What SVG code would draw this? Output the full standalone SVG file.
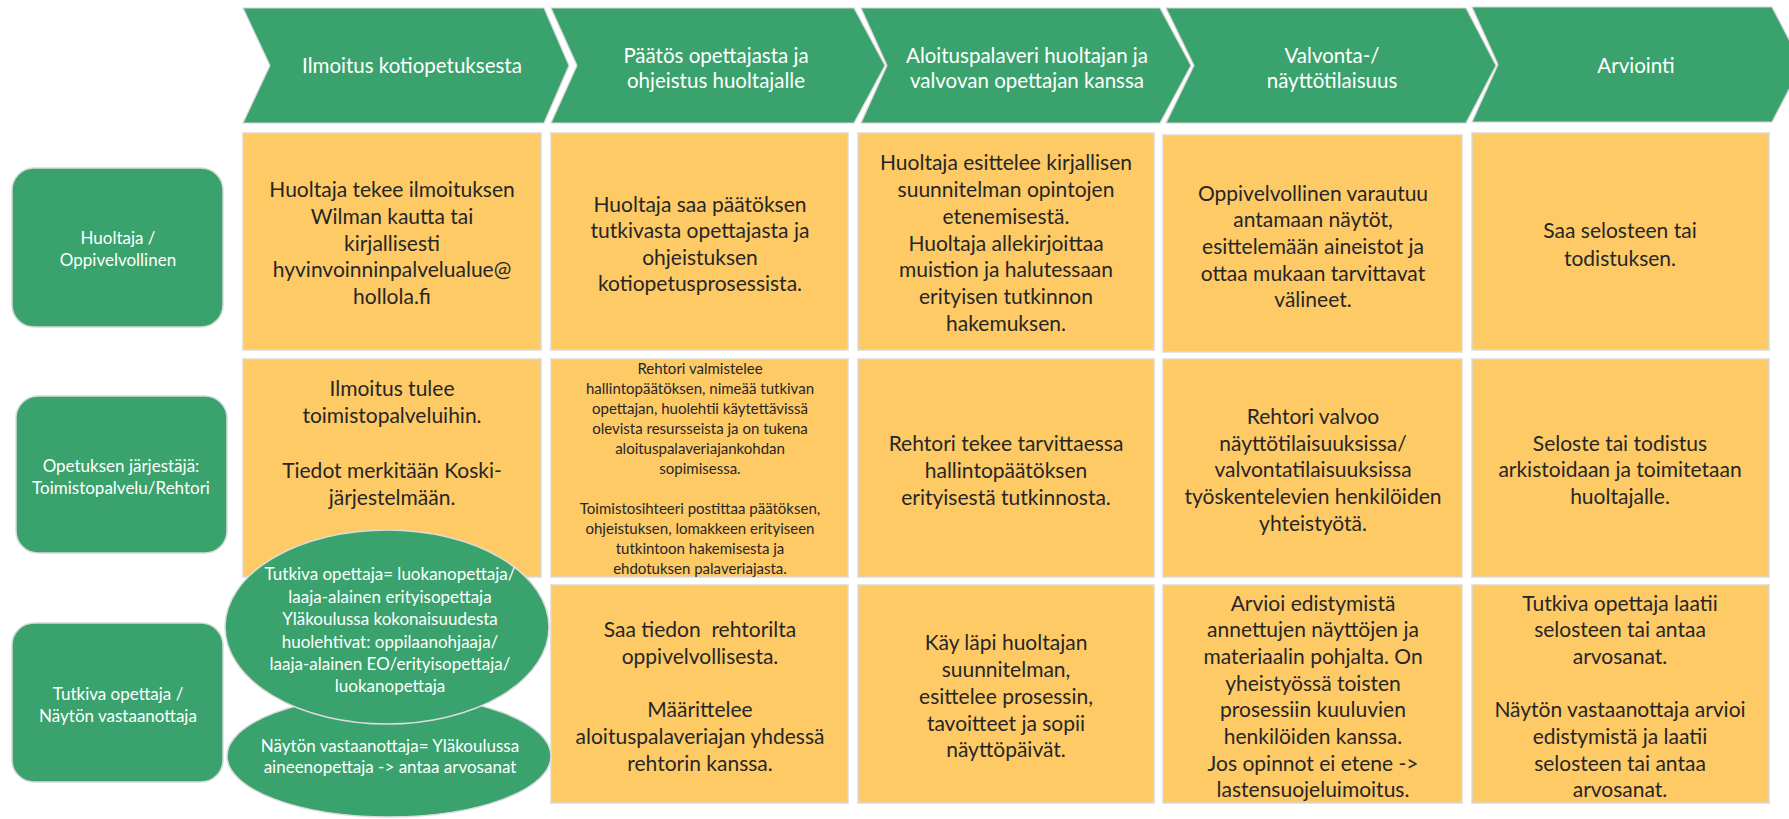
<svg xmlns="http://www.w3.org/2000/svg" width="1789" height="819" viewBox="0 0 1789 819">
<style>
.chev{fill:#3AA36D;stroke:#d6d6d6;stroke-width:1.2}
.lab{fill:#3AA36D;stroke:#d9d9d9;stroke-width:1.5}
.ell{fill:#3AA36D;stroke:#dcdcdc;stroke-width:1.5}
.box{fill:#FECA66;stroke:#d9d9d9;stroke-width:1.5}
text{font-family:Lato,"Liberation Sans",sans-serif;text-anchor:middle;dominant-baseline:central}
.h{fill:#ffffff;font-size:20.5px}
.w{fill:#ffffff;font-size:17px}
.t{fill:#262626;font-size:21px}
.s{fill:#262626;font-size:15px}
</style>
<rect width="1789" height="819" fill="#ffffff"/>
<g id="headers">
<g id="step1"><path class="chev" d="M243,8 L544,8 L569,65.5 L544,123 L243,123 L270,65.5 Z"/><text class="h" x="412" y="65">Ilmoitus kotiopetuksesta</text></g>
<g id="step2"><path class="chev" d="M551,8 L854,8 L885,65.5 L854,123 L551,123 L577,65.5 Z"/><text class="h"><tspan x="716" y="55">Päätös opettajasta ja</tspan><tspan x="716" y="80">ohjeistus huoltajalle</tspan></text></g>
<g id="step3"><path class="chev" d="M861,8 L1160,8 L1191,65.5 L1160,123 L861,123 L887,65.5 Z"/><text class="h"><tspan x="1027" y="55">Aloituspalaveri huoltajan ja</tspan><tspan x="1027" y="80">valvovan opettajan kanssa</tspan></text></g>
<g id="step4"><path class="chev" d="M1166,8 L1466,8 L1496,65.5 L1466,123 L1166,123 L1194,65.5 Z"/><text class="h"><tspan x="1332" y="55">Valvonta-/</tspan><tspan x="1332" y="80">näyttötilaisuus</tspan></text></g>
<g id="step5"><path class="chev" d="M1472,7 L1772,7 L1802,64.5 L1772,122 L1472,122 L1498,64.5 Z"/><text class="h" x="1636" y="65">Arviointi</text></g>
</g>
<g id="roles">
<g id="role1"><rect class="lab" x="12" y="168" width="211" height="159" rx="22"/><text class="w"><tspan x="118" y="237">Huoltaja /</tspan><tspan x="118" y="259">Oppivelvollinen</tspan></text></g>
<g id="role2"><rect class="lab" x="16" y="396" width="211" height="157" rx="22"/><text class="w"><tspan x="121" y="465">Opetuksen järjestäjä:</tspan><tspan x="121" y="487">Toimistopalvelu/Rehtori</tspan></text></g>
<g id="role3"><rect class="lab" x="12" y="623" width="211" height="159" rx="22"/><text class="w"><tspan x="118" y="693">Tutkiva opettaja /</tspan><tspan x="118" y="715">Näytön vastaanottaja</tspan></text></g>
</g>
<g id="cells">
<g id="r1c1"><rect class="box" x="243" y="133" width="298" height="217"/><text class="t"><tspan x="392" y="188">Huoltaja tekee ilmoituksen</tspan><tspan x="392" y="215">Wilman kautta tai</tspan><tspan x="392" y="242">kirjallisesti</tspan><tspan x="392" y="268">hyvinvoinninpalvelualue@</tspan><tspan x="392" y="295">hollola.fi</tspan></text></g>
<g id="r1c2"><rect class="box" x="551" y="133" width="297" height="217"/><text class="t"><tspan x="700" y="203">Huoltaja saa päätöksen</tspan><tspan x="700" y="229">tutkivasta opettajasta ja</tspan><tspan x="700" y="256">ohjeistuksen</tspan><tspan x="700" y="282">kotiopetusprosessista.</tspan></text></g>
<g id="r1c3"><rect class="box" x="858" y="133" width="296" height="217"/><text class="t"><tspan x="1006" y="161">Huoltaja esittelee kirjallisen</tspan><tspan x="1006" y="188">suunnitelman opintojen</tspan><tspan x="1006" y="215">etenemisestä.</tspan><tspan x="1006" y="242">Huoltaja allekirjoittaa</tspan><tspan x="1006" y="268">muistion ja halutessaan</tspan><tspan x="1006" y="295">erityisen tutkinnon</tspan><tspan x="1006" y="322">hakemuksen.</tspan></text></g>
<g id="r1c4"><rect class="box" x="1163" y="135" width="299" height="217"/><text class="t"><tspan x="1313" y="192">Oppivelvollinen varautuu</tspan><tspan x="1313" y="218">antamaan näytöt,</tspan><tspan x="1313" y="245">esittelemään aineistot ja</tspan><tspan x="1313" y="272">ottaa mukaan tarvittavat</tspan><tspan x="1313" y="298">välineet.</tspan></text></g>
<g id="r1c5"><rect class="box" x="1472" y="133" width="297" height="217"/><text class="t"><tspan x="1620" y="229">Saa selosteen tai</tspan><tspan x="1620" y="257">todistuksen.</tspan></text></g>
<g id="r2c1"><rect class="box" x="243" y="359" width="298" height="218"/><text class="t"><tspan x="392" y="387">Ilmoitus tulee</tspan><tspan x="392" y="414">toimistopalveluihin.</tspan><tspan x="392" y="469">Tiedot merkitään Koski-</tspan><tspan x="392" y="496">järjestelmään.</tspan></text></g>
<g id="r2c2"><rect class="box" x="551" y="359" width="297" height="218"/><text class="s"><tspan x="700" y="368">Rehtori valmistelee</tspan><tspan x="700" y="388">hallintopäätöksen, nimeää tutkivan</tspan><tspan x="700" y="408">opettajan, huolehtii käytettävissä</tspan><tspan x="700" y="428">olevista resursseista ja on tukena</tspan><tspan x="700" y="448">aloituspalaveriajankohdan</tspan><tspan x="700" y="468">sopimisessa.</tspan><tspan x="700" y="508">Toimistosihteeri postittaa päätöksen,</tspan><tspan x="700" y="528">ohjeistuksen, lomakkeen erityiseen</tspan><tspan x="700" y="548">tutkintoon hakemisesta ja</tspan><tspan x="700" y="568">ehdotuksen palaveriajasta.</tspan></text></g>
<g id="r2c3"><rect class="box" x="858" y="359" width="296" height="218"/><text class="t"><tspan x="1006" y="442">Rehtori tekee tarvittaessa</tspan><tspan x="1006" y="469">hallintopäätöksen</tspan><tspan x="1006" y="496">erityisestä tutkinnosta.</tspan></text></g>
<g id="r2c4"><rect class="box" x="1163" y="359" width="299" height="218"/><text class="t"><tspan x="1313" y="415">Rehtori valvoo</tspan><tspan x="1313" y="442">näyttötilaisuuksissa/</tspan><tspan x="1313" y="468">valvontatilaisuuksissa</tspan><tspan x="1313" y="495">työskentelevien henkilöiden</tspan><tspan x="1313" y="522">yhteistyötä.</tspan></text></g>
<g id="r2c5"><rect class="box" x="1472" y="359" width="297" height="218"/><text class="t"><tspan x="1620" y="442">Seloste tai todistus</tspan><tspan x="1620" y="468">arkistoidaan ja toimitetaan</tspan><tspan x="1620" y="495">huoltajalle.</tspan></text></g>
<g id="r3c2"><rect class="box" x="551" y="585" width="297" height="218"/><text class="t" xml:space="preserve"><tspan x="700" y="628">Saa tiedon  rehtorilta</tspan><tspan x="700" y="655">oppivelvollisesta.</tspan><tspan x="700" y="708">Määrittelee</tspan><tspan x="700" y="735">aloituspalaveriajan yhdessä</tspan><tspan x="700" y="762">rehtorin kanssa.</tspan></text></g>
<g id="r3c3"><rect class="box" x="858" y="585" width="296" height="218"/><text class="t"><tspan x="1006" y="641">Käy läpi huoltajan</tspan><tspan x="1006" y="668">suunnitelman,</tspan><tspan x="1006" y="695">esittelee prosessin,</tspan><tspan x="1006" y="722">tavoitteet ja sopii</tspan><tspan x="1006" y="748">näyttöpäivät.</tspan></text></g>
<g id="r3c4"><rect class="box" x="1163" y="585" width="299" height="218"/><text class="t"><tspan x="1313" y="602">Arvioi edistymistä</tspan><tspan x="1313" y="628">annettujen näyttöjen ja</tspan><tspan x="1313" y="655">materiaalin pohjalta. On</tspan><tspan x="1313" y="682">yheistyössä toisten</tspan><tspan x="1313" y="708">prosessiin kuuluvien</tspan><tspan x="1313" y="735">henkilöiden kanssa.</tspan><tspan x="1313" y="762">Jos opinnot ei etene -&gt;</tspan><tspan x="1313" y="788">lastensuojeluimoitus.</tspan></text></g>
<g id="r3c5"><rect class="box" x="1472" y="585" width="297" height="218"/><text class="t"><tspan x="1620" y="602">Tutkiva opettaja laatii</tspan><tspan x="1620" y="628">selosteen tai antaa</tspan><tspan x="1620" y="655">arvosanat.</tspan><tspan x="1620" y="708">Näytön vastaanottaja arvioi</tspan><tspan x="1620" y="735">edistymistä ja laatii</tspan><tspan x="1620" y="762">selosteen tai antaa</tspan><tspan x="1620" y="788">arvosanat.</tspan></text></g>
</g>
<g id="ellipse-receiver"><ellipse class="ell" cx="389" cy="756" rx="162" ry="61"/><text class="w"><tspan x="390" y="745">Näytön vastaanottaja= Yläkoulussa</tspan><tspan x="390" y="766">aineenopettaja -&gt; antaa arvosanat</tspan></text></g>
<g id="ellipse-teacher"><ellipse class="ell" cx="387" cy="627" rx="162" ry="97"/><text class="w"><tspan x="390" y="573">Tutkiva opettaja= luokanopettaja/</tspan><tspan x="390" y="596">laaja-alainen erityisopettaja</tspan><tspan x="390" y="618">Yläkoulussa kokonaisuudesta</tspan><tspan x="390" y="641">huolehtivat: oppilaanohjaaja/</tspan><tspan x="390" y="663">laaja-alainen EO/erityisopettaja/</tspan><tspan x="390" y="685">luokanopettaja</tspan></text></g>
<g id="connectors"></g>
</svg>
